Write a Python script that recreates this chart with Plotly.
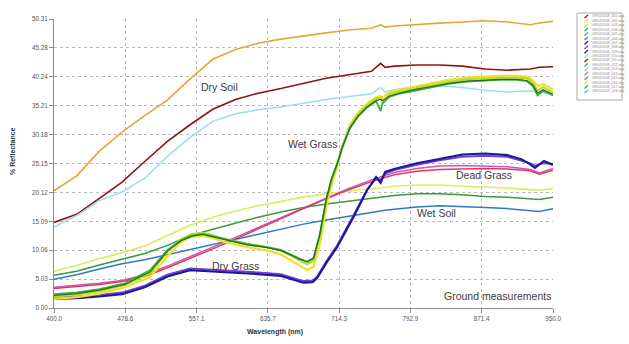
import plotly.graph_objects as go

# ---------------- data ----------------
WL_A = [400, 425, 450, 475, 500, 525, 550, 575, 600, 625, 650, 675, 700, 725, 750,
        760, 765, 775, 800, 825, 850, 875, 900, 925, 935, 950]

DRY_SOIL_ORANGE = [20.4, 23.0, 27.3, 30.6, 33.5, 36.2, 39.9, 43.3, 45.0, 46.1, 46.8, 47.4, 47.9, 48.4, 48.7,
                   49.3, 48.9, 49.1, 49.4, 49.6, 49.8, 50.0, 49.8, 49.3, 49.6, 49.9]
DRY_SOIL_RED = [14.9, 16.3, 19.1, 21.9, 25.5, 29.0, 31.9, 34.6, 36.3, 37.4, 38.2, 39.1, 40.0, 40.6, 41.2,
                42.6, 41.9, 42.1, 42.3, 42.3, 42.1, 41.6, 41.4, 41.6, 41.9, 42.0]
DRY_SOIL_CYAN = [14.1, 16.1, 18.7, 20.2, 22.6, 26.4, 29.7, 32.5, 33.8, 34.5, 35.0, 35.7, 36.3, 36.8, 37.3,
                 38.4, 37.6, 38.0, 38.5, 38.7, 38.4, 37.9, 37.6, 37.8, 37.5, 37.4]

WET_SOIL_LIME = [6.4, 7.4, 8.6, 9.6, 10.8, 12.6, 14.4, 15.8, 16.9, 17.8, 18.6, 19.3, 19.9, 20.4, 20.8,
                 20.9, 21.0, 21.2, 21.4, 21.4, 21.2, 21.1, 20.9, 20.6, 20.5, 20.8]
WET_SOIL_GREEN = [5.7, 6.4, 7.5, 8.5, 9.5, 10.9, 12.6, 13.7, 14.8, 15.8, 16.7, 17.5, 18.1, 18.6, 19.0,
                  19.2, 19.3, 19.6, 19.9, 19.9, 19.7, 19.4, 19.3, 19.0, 18.9, 19.3]
WET_SOIL_BLUE = [5.0, 5.8, 6.8, 7.7, 8.4, 9.3, 10.2, 11.0, 12.0, 12.9, 13.8, 14.6, 15.3, 16.0, 16.6,
                 16.9, 17.0, 17.2, 17.6, 17.8, 17.7, 17.5, 17.3, 17.0, 16.8, 17.3]

DEAD_GRASS_MAGENTA = [3.6, 3.9, 4.3, 4.8, 5.8, 7.3, 8.9, 10.6, 12.3, 14.0, 15.8, 17.5, 19.2, 20.8, 22.3,
                      22.8, 23.1, 23.6, 24.3, 24.7, 24.8, 24.7, 24.6, 24.1, 23.5, 24.3]
DEAD_GRASS_RED = [3.4, 3.7, 4.1, 4.6, 5.5, 7.0, 8.6, 10.3, 12.0, 13.8, 15.6, 17.3, 19.0, 20.6, 22.0,
                  22.5, 22.8, 23.2, 23.8, 24.1, 24.2, 24.3, 24.2, 23.9, 23.3, 24.0]

WL_DRY_GRASS = [400, 425, 450, 475, 500, 525, 550, 575, 600, 625, 650, 665, 675, 685, 690, 700, 712,
                730, 745, 755, 760, 765, 775, 800, 825, 850, 875, 900, 915, 925, 930, 940, 950]
DRY_GRASS_NAVY = [1.6, 1.7, 2.0, 2.4, 3.6, 5.5, 6.6, 6.4, 6.1, 5.9, 5.6, 4.9, 4.4, 4.5, 5.2, 7.8, 10.6,
                  15.8, 20.5, 22.8, 21.8, 23.7, 24.2, 25.2, 26.0, 26.7, 26.9, 26.6, 25.9, 25.0, 24.4, 25.6, 24.9]
DRY_GRASS_PURPLE = [1.9, 2.0, 2.3, 2.7, 3.9, 5.8, 6.9, 6.7, 6.4, 6.2, 5.9, 5.2, 4.7, 4.8, 5.5, 8.1, 10.9,
                    16.1, 20.6, 22.6, 22.2, 23.4, 24.0, 24.9, 25.7, 26.3, 26.5, 26.3, 25.7, 25.2, 24.8, 25.2, 25.1]

WL_WET_GRASS = [400, 425, 450, 478, 506, 525, 540, 552, 564, 575, 586, 600, 613, 635, 650, 660, 670, 679,
                686, 693, 700, 706, 712, 718, 726, 735, 745, 755, 760, 762, 770, 781, 800, 818, 835, 855,
                875, 892, 910, 921, 928, 933, 939, 950]
WET_GRASS_YELLOW = [1.6, 1.9, 2.5, 3.6, 5.4, 9.0, 11.5, 12.4, 12.6, 12.2, 11.6, 11.1, 10.6, 10.0, 9.3, 8.4,
                    7.4, 6.6, 7.2, 11.0, 17.5, 21.5, 24.5, 28.0, 31.8, 34.0, 35.6, 36.7, 36.9, 36.6, 37.5,
                    38.0, 38.6, 39.2, 39.7, 40.1, 40.3, 40.4, 40.4, 40.3, 39.6, 38.6, 39.0, 38.0]
WET_GRASS_LIME = [2.0, 2.3, 2.9, 4.0, 6.0, 9.8, 12.0, 12.9, 13.1, 12.7, 12.1, 11.6, 11.2, 10.6, 10.0, 9.2,
                  8.3, 7.6, 8.2, 12.5, 18.5, 22.3, 25.0, 28.3, 31.6, 33.7, 35.3, 36.4, 36.6, 35.8, 37.2,
                  37.7, 38.3, 38.9, 39.4, 39.8, 40.0, 40.1, 40.1, 40.0, 39.1, 37.8, 38.5, 37.5]
WET_GRASS_GREEN = [2.4, 2.7, 3.3, 4.3, 6.6, 10.1, 11.8, 12.6, 12.9, 12.5, 12.0, 11.5, 11.1, 10.6, 10.1, 9.4,
                   8.6, 8.0, 8.6, 12.8, 18.8, 22.5, 25.0, 28.0, 31.2, 33.3, 34.9, 36.0, 34.3, 35.6, 36.8,
                   37.3, 37.9, 38.5, 39.0, 39.4, 39.6, 39.7, 39.7, 39.5, 38.6, 37.0, 37.8, 37.0]
WET_GRASS_DARK = [2.2, 2.5, 3.1, 4.1, 6.3, 9.9, 11.7, 12.5, 12.8, 12.4, 11.9, 11.4, 11.0, 10.5, 10.0, 9.3,
                  8.5, 8.1, 8.7, 12.9, 18.9, 22.6, 25.1, 28.1, 31.3, 33.4, 35.0, 36.1, 36.3, 36.1, 36.9,
                  37.4, 38.1, 38.6, 39.1, 39.5, 39.7, 39.8, 39.8, 39.6, 38.8, 37.4, 38.0, 37.2]

X_TICKS = [400, 478.571, 557.143, 635.714, 714.286, 792.857, 871.429, 950]
X_TICK_LABELS = ["400.0", "478.6", "557.1", "635.7", "714.3", "792.9", "871.4", "950.0"]
Y_TICKS = [0, 5.031, 10.062, 15.093, 20.124, 25.155, 30.186, 35.217, 40.248, 45.279, 50.31]
Y_TICK_LABELS = ["0.00", "5.03", "10.06", "15.09", "20.12", "25.15", "30.18", "35.21", "40.24", "45.28", "50.31"]

CLASS_LABELS = ["Dry Soil", "Wet Grass", "Dead Grass", "Wet Soil", "Dry Grass"]
CLASS_LABEL_X = [582, 685, 874, 821.5, 600.5]
CLASS_LABEL_Y = [38.5, 28.6, 23.1, 16.5, 7.3]

LEGEND_NAMES = ["GR020108_001.asg", "GR020108_002.asg", "GR020108_003.asg", "GR020108_004.asg",
                "GR020108_005.asg", "GR020108_006.asg", "GR020108_007.asg", "GR020108_008.asg",
                "GR020108_009.asg", "GR020108_010.asg", "GR020108_011.asg", "GR020108_012.asg",
                "GR020108_013.asg", "GR020108_014.asg", "GR020108_015.asg", "GR020108_016.asg",
                "GR020108_017.asg", "GR020108_018.asg"]
LEGEND_COLORS = ["#8B1A1A", "#E8D820", "#C8E628", "#2EA58A", "#3CB43C", "#2E78C8", "#1A1A9A", "#7A3CC8",
                 "#1A1A9A", "#A8E070", "#8B1A1A", "#3CB43C", "#A0C8F0", "#E060A0", "#3CB43C", "#E8E028",
                 "#2E9A3A", "#60A0E0"]

# ---------------- figure ----------------
W, H = 629, 344
L, R, T, B = 54, 553, 19, 308

series = [
    (WL_A, DRY_SOIL_ORANGE, "#E8A535", 1.6),
    (WL_A, DRY_SOIL_RED, "#8B1414", 1.6),
    (WL_A, DRY_SOIL_CYAN, "#9EDDEA", 1.5),
    (WL_A, WET_SOIL_LIME, "#D6EE5E", 1.6),
    (WL_A, WET_SOIL_GREEN, "#3A9A3A", 1.5),
    (WL_A, WET_SOIL_BLUE, "#2E78C8", 1.5),
    (WL_A, DEAD_GRASS_MAGENTA, "#C458C0", 1.5),
    (WL_A, DEAD_GRASS_RED, "#E03A5A", 1.5),
    (WL_DRY_GRASS, DRY_GRASS_PURPLE, "#7A3CD0", 1.8),
    (WL_DRY_GRASS, DRY_GRASS_NAVY, "#1A1A9E", 2.2),
    (WL_WET_GRASS, WET_GRASS_YELLOW, "#F0E028", 2.2),
    (WL_WET_GRASS, WET_GRASS_LIME, "#B4DC28", 2.0),
    (WL_WET_GRASS, WET_GRASS_GREEN, "#3CB43C", 1.8),
    (WL_WET_GRASS, WET_GRASS_DARK, "#2A6A2A", 1.2),
]

fig = go.Figure()
for xs, ys, col, w in series:
    fig.add_trace(go.Scatter(x=xs, y=ys, mode="lines", line=dict(color=col, width=w),
                             showlegend=False, hoverinfo="skip"))

annotations = []
for txt, x, y in zip(CLASS_LABELS, CLASS_LABEL_X, CLASS_LABEL_Y):
    annotations.append(dict(x=x, y=y, xref="x", yref="y", text=txt, showarrow=False,
                            font=dict(family="Liberation Sans, Arial", size=10.5, color="#3C3C3C")))
annotations.append(dict(x=950, y=2.1, xref="x", yref="y", text="Ground measurements", showarrow=False,
                        xanchor="right", font=dict(family="Liberation Sans, Arial", size=10.5, color="#3C3C3C")))


def px(xp):
    return (xp - L) / (R - L)


def py(yp):
    return (B - yp) / (B - T)


annotations.append(dict(x=px(275), y=py(332), xref="paper", yref="paper", text="<b>Wavelength (nm)</b>",
                        xanchor="center", yanchor="middle", showarrow=False,
                        font=dict(family="Liberation Sans, Arial", size=7, color="#333333")))
annotations.append(dict(x=px(12), y=py(151), xref="paper", yref="paper", text="<b>% Reflectance</b>",
                        textangle=-90, xanchor="center", yanchor="middle", showarrow=False,
                        font=dict(family="Liberation Sans, Arial", size=7, color="#333333")))

# custom legend
shapes = [dict(type="rect", xref="paper", yref="paper", x0=px(577), x1=px(622), y0=py(100), y1=py(13),
               line=dict(color="#A8A8A8", width=1), fillcolor="white")]
for i, (name, col) in enumerate(zip(LEGEND_NAMES, LEGEND_COLORS)):
    yc = 16.5 + i * 4.4
    shapes.append(dict(type="line", xref="paper", yref="paper", x0=px(584.5), x1=px(588),
                       y0=py(yc + 1.6), y1=py(yc - 1.6), line=dict(color=col, width=1.3)))
    annotations.append(dict(x=px(590), y=py(yc), xref="paper", yref="paper", text=name, showarrow=False,
                            xanchor="left", yanchor="middle",
                            font=dict(family="Liberation Sans, Arial", size=3.6, color="#8A8A8A")))

fig.update_layout(
    width=W, height=H,
    margin=dict(l=L, r=W - R, t=T, b=H - B, pad=0),
    paper_bgcolor="white", plot_bgcolor="white",
    annotations=annotations, shapes=shapes,
    showlegend=False,
)
fig.update_xaxes(range=[400, 950], tickmode="array", tickvals=X_TICKS, ticktext=X_TICK_LABELS,
                 showgrid=True, gridcolor="#B8B8B8", griddash="dot", gridwidth=1,
                 showline=True, linecolor="#8C8C8C", linewidth=1, ticks="outside", ticklen=4,
                 tickcolor="#8C8C8C", tickfont=dict(family="Liberation Sans, Arial", size=6.3, color="#555555"),
                 zeroline=False)
fig.update_yaxes(range=[0, 50.31], tickmode="array", tickvals=Y_TICKS, ticktext=Y_TICK_LABELS,
                 showgrid=True, gridcolor="#B8B8B8", griddash="dot", gridwidth=1,
                 showline=True, linecolor="#8C8C8C", linewidth=1, ticks="outside", ticklen=4,
                 tickcolor="#8C8C8C", tickfont=dict(family="Liberation Sans, Arial", size=6.3, color="#555555"),
                 zeroline=False)

fig.write_html("out.html")
